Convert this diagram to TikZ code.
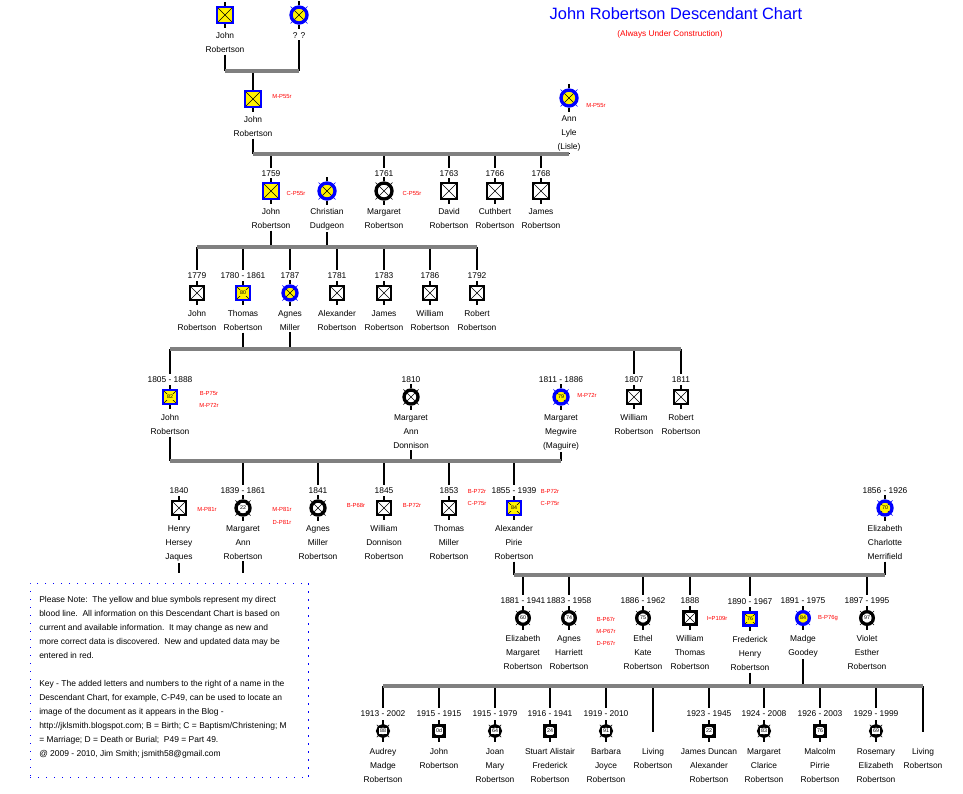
\documentclass[tikz,border=0pt]{standalone}
\usepackage{fontspec}
\setmainfont{Liberation Sans}
\usetikzlibrary{calc}

\definecolor{lineblue}{RGB}{0,0,255}
\definecolor{barGrey}{RGB}{128,128,128}
\definecolor{refred}{RGB}{255,0,0}

% symbol size and reach of the cross on circles (changed per generation)
\def\symsz{11.5pt}
\def\xr{10}

% #1 id, #2 x, #3 y, #4 b (blood line) or n, #5 age, #6 dates, #7 names
\newcommand{\personrest}[7]{%
  \draw[stub] (#1.north) -- ++(0,-4) (#1.south) -- ++(0,4);
  \if\relax\detokenize{#5}\relax\else\node[agebox, fill#4] (#1a) at (#1) {#5};\fi
  \node[datetxt] (#1d) at (#2,#3-17) {#6};
  \node[nametxt] (#1n) at (#2,#3+15) {#7};}
\newcommand{\man}[7]{%
  \node[sq, draw#4, fill#4] (#1) at (#2,#3) {};
  \personrest{#1}{#2}{#3}{#4}{#5}{#6}{#7}}
\newcommand{\woman}[7]{%
  \draw[xl, draw#4] (#2-\xr,#3-\xr) -- (#2+\xr,#3+\xr) (#2-\xr,#3+\xr) -- (#2+\xr,#3-\xr);
  \node[ci, draw#4, fill#4] (#1) at (#2,#3) {};
  \personrest{#1}{#2}{#3}{#4}{#5}{#6}{#7}}

\begin{document}
\begin{tikzpicture}[x=0.75pt, y=-0.75pt]
    \tikzstyle{drawb} = [draw=lineblue]
    \tikzstyle{drawn} = [draw=black]
    \tikzstyle{fillb} = [fill=yellow]
    \tikzstyle{filln} = [fill=white]
    \tikzstyle{xl} = [line width=0.4pt]
    \tikzstyle{cross} = [path picture={\draw[xl, black] (path picture bounding box.north west) -- (path picture bounding box.south east) (path picture bounding box.south west) -- (path picture bounding box.north east);}]
    \tikzstyle{sq} = [rectangle, line width=2pt, minimum size=\symsz, inner sep=0pt, cross]
    \tikzstyle{ci} = [circle, line width=2.5pt, minimum size=\symsz, inner sep=0pt, cross]
    \tikzstyle{stub} = [line width=2pt, black]
    \tikzstyle{agebox} = [font=\fontsize{4}{4}\selectfont, inner sep=0.6pt]
    \tikzstyle{datetxt} = [font=\fontsize{6.3}{8}\selectfont, inner sep=2pt]
    \tikzstyle{nametxt} = [font=\fontsize{6.3}{10.5}\selectfont, align=center, anchor=north, inner sep=1.5pt]
    \tikzstyle{ref} = [text=refred, font=\fontsize{4.4}{5}\selectfont, inner sep=0pt]
    \tikzstyle{bar} = [draw=barGrey, line width=2.6pt]
    \tikzstyle{stem} = [draw=black, line width=2pt]

    \useasboundingbox (0,0) rectangle (963,793);

    % Title
    \node[text=lineblue, font=\fontsize{12.3}{14}\selectfont, inner sep=0pt] (title) at (676,14) {John Robertson Descendant Chart};
    \node[text=refred, font=\fontsize{6.2}{8}\selectfont, inner sep=0pt] (subtitle) at (670,34) {(Always Under Construction)};

    % Nodes
    \def\symsz{12pt}\def\xr{8.5}
    \man{p01}{225}{15}{b}{}{}{John\\Robertson}
    \woman{p02}{299}{15}{b}{}{}{? ?}
    \man{p11}{253}{99}{b}{}{}{John\\Robertson}
    \woman{p12}{569}{98}{b}{}{}{Ann\\Lyle\\(Lisle)}

    \man{p21}{271}{191}{b}{}{1759}{John\\Robertson}
    \woman{p22}{327}{191}{b}{}{}{Christian\\Dudgeon}
    \woman{p23}{384}{191}{n}{}{1761}{Margaret\\Robertson}
    \man{p24}{449}{191}{n}{}{1763}{David\\Robertson}
    \man{p25}{495}{191}{n}{}{1766}{Cuthbert\\Robertson}
    \man{p26}{541}{191}{n}{}{1768}{James\\Robertson}

    \def\symsz{10.5pt}\def\xr{7.6}
    \man{p31}{197}{293}{n}{}{1779}{John\\Robertson}
    \man{p32}{243}{293}{b}{80}{1780 - 1861}{Thomas\\Robertson}
    \woman{p33}{290}{293}{b}{}{1787}{Agnes\\Miller}
    \man{p34}{337}{293}{n}{}{1781}{Alexander\\Robertson}
    \man{p35}{384}{293}{n}{}{1783}{James\\Robertson}
    \man{p36}{430}{293}{n}{}{1786}{William\\Robertson}
    \man{p37}{477}{293}{n}{}{1792}{Robert\\Robertson}

    \man{p41}{170}{397}{b}{82}{1805 - 1888}{John\\Robertson}
    \woman{p42}{411}{397}{n}{}{1810}{Margaret\\Ann\\Donnison}
    \woman{p43}{561}{397}{b}{79}{1811 - 1886}{Margaret\\Megwire\\(Maguire)}
    \man{p44}{634}{397}{n}{}{1807}{William\\Robertson}
    \man{p45}{681}{397}{n}{}{1811}{Robert\\Robertson}

    \man{p51}{179}{508}{n}{}{1840}{Henry\\Hersey\\Jaques}
    \woman{p52}{243}{508}{n}{22}{1839 - 1861}{Margaret\\Ann\\Robertson}
    \woman{p53}{318}{508}{n}{}{1841}{Agnes\\Miller\\Robertson}
    \man{p54}{384}{508}{n}{}{1845}{William\\Donnison\\Robertson}
    \man{p55}{449}{508}{n}{}{1853}{Thomas\\Miller\\Robertson}
    \man{p56}{514}{508}{b}{84}{1855 - 1939}{Alexander\\Pirie\\Robertson}
    \woman{p57}{885}{508}{b}{70}{1856 - 1926}{Elizabeth\\Charlotte\\Merrifield}

    \def\symsz{9.5pt}\def\xr{7}
    \woman{p61}{523}{618}{n}{60}{1881 - 1941}{Elizabeth\\Margaret\\Robertson}
    \woman{p62}{569}{618}{n}{74}{1883 - 1958}{Agnes\\Harriett\\Robertson}
    \woman{p63}{643}{618}{n}{75}{1886 - 1962}{Ethel\\Kate\\Robertson}
    \man{p64}{690}{618}{n}{}{1888}{William\\Thomas\\Robertson}
    \man{p65}{750}{619}{b}{76}{1890 - 1967}{Frederick\\Henry\\Robertson}
    \woman{p66}{803}{618}{b}{84}{1891 - 1975}{Madge\\Goodey}
    \woman{p67}{867}{618}{n}{97}{1897 - 1995}{Violet\\Esther\\Robertson}

    \def\symsz{8pt}\def\xr{6.2}
    \woman{p71}{383}{731}{n}{88}{1913 - 2002}{Audrey\\Madge\\Robertson}
    \man{p72}{439}{731}{n}{0d}{1915 - 1915}{John\\Robertson}
    \woman{p73}{495}{731}{n}{64}{1915 - 1979}{Joan\\Mary\\Robertson}
    \man{p74}{550}{731}{n}{24}{1916 - 1941}{Stuart Alistair\\Frederick\\Robertson}
    \woman{p75}{606}{731}{n}{91}{1919 - 2010}{Barbara\\Joyce\\Robertson}
    \coordinate (p76) at (653,732);
    \node[nametxt] (p76n) at (653,746) {Living\\Robertson};
    \man{p77}{709}{731}{n}{22}{1923 - 1945}{James Duncan\\Alexander\\Robertson}
    \woman{p78}{764}{731}{n}{83}{1924 - 2008}{Margaret\\Clarice\\Robertson}
    \man{p79}{820}{731}{n}{76}{1926 - 2003}{Malcolm\\Pirrie\\Robertson}
    \woman{p7a}{876}{731}{n}{69}{1929 - 1999}{Rosemary\\Elizabeth\\Robertson}
    \coordinate (p7b) at (923,732);
    \node[nametxt] (p7bn) at (923,746) {Living\\Robertson};

    % source references
    \foreach \x/\y/\t [count=\i] in {282/97/M-P55r, 596/106/M-P55r, 296/193/C-P55r, 412/193/C-P55r,
        209/394/B-P75r, 209/405/M-P72r, 587/395/M-P72r, 207/509/M-P81r, 282/509/M-P81r, 282/522/D-P81r,
        356/505/B-P68r, 412/505/B-P72r, 477/491/B-P72r, 477/503/C-P75r, 550/491/B-P72r, 550/503/C-P75r,
        606/619/B-P67r, 606/631/M-P67r, 606/643/D-P67r, 717/618/I=P109r, 828/618/B-P76g}
        \node[ref] (r\i) at (\x,\y) {\t};

    % note
    \node[draw=lineblue, line width=0.8pt, dash pattern=on 0.8pt off 5.2pt, minimum width=209pt, minimum height=146pt] (notebox) at (169.5,680.5) {};
    \node[font=\fontsize{6.35}{10.5}\selectfont, align=left, anchor=north west, inner sep=0pt] (note) at (39,596) {Please Note:\ \ The yellow and blue symbols represent my direct\\
        blood line.\ \ All information on this Descendant Chart is based on\\
        current and available information.\ \ It may change as new and\\
        more correct data is discovered.\ \ New and updated data may be\\
        entered in red.\\[10.5pt]
        Key - The added letters and numbers to the right of a name in the\\
        Descendant Chart, for example, C-P49, can be used to locate an\\
        image of the document as it appears in the Blog -\\
        http://jklsmith.blogspot.com; B = Birth; C = Baptism/Christening; M\\
        = Marriage; D = Death or Burial;\ \ P49 = Part 49.\\
        @ 2009 - 2010, Jim Smith; jsmith58@gmail.com};

    % Connections
    \coordinate (bA1) at (225,71);  \coordinate (bA2) at (299,71);
    \coordinate (bB1) at (253,154); \coordinate (bB2) at (569,154);
    \coordinate (bC1) at (197,247); \coordinate (bC2) at (477,247);
    \coordinate (bD1) at (170,349); \coordinate (bD2) at (681,349);
    \coordinate (bE1) at (170,461); \coordinate (bE2) at (561,461);
    \coordinate (bH1) at (179,573);
    \coordinate (bF1) at (514,575); \coordinate (bF2) at (885,575);
    \coordinate (bG1) at (383,686); \coordinate (bG2) at (923,686);

    \foreach \p/\b in {p01n/bA1, p02n/bA1, p11n/bB1, p12n/bB1, p21n/bC1, p22n/bC1, p32n/bD1, p33n/bD1,
        p41n/bE1, p42n/bE1, p43n/bE1, p51n/bH1, p52n/bH1, p56n/bF1, p57n/bF1, p65n/bG1, p66n/bG1}
        \draw[stem] (\p) -- (\p |- \b);

    \draw[stem] (bA1 -| p11) -- (p11);
    \foreach \c in {p21d, p23d, p24d, p25d, p26d} \draw[stem] (bB1 -| \c) -- (\c);
    \foreach \c in {p31d, p32d, p33d, p34d, p35d, p36d, p37d} \draw[stem] (bC1 -| \c) -- (\c);
    \foreach \c in {p41d, p44d, p45d} \draw[stem] (bD1 -| \c) -- (\c);
    \foreach \c in {p52d, p53d, p54d, p55d, p56d} \draw[stem] (bE1 -| \c) -- (\c);
    \foreach \c in {p61d, p62d, p63d, p64d, p65d, p67d} \draw[stem] (bF1 -| \c) -- (\c);
    \foreach \c in {p71d, p72d, p73d, p74d, p75d, p76, p77d, p78d, p79d, p7ad, p7b} \draw[stem] (bG1 -| \c) -- (\c);

    \foreach \a/\b in {bA1/bA2, bB1/bB2, bC1/bC2, bD1/bD2, bE1/bE2, bF1/bF2, bG1/bG2}
        \draw[bar] (\a) -- (\b);
\end{tikzpicture}
\end{document}
